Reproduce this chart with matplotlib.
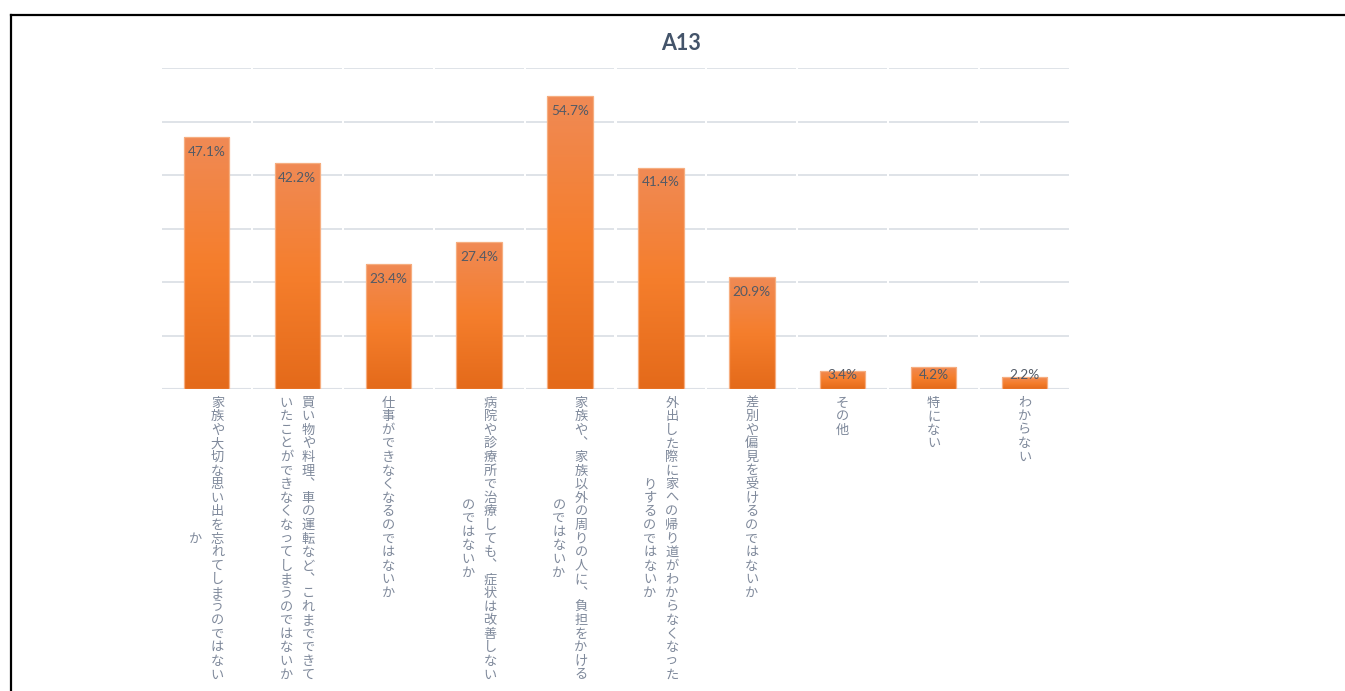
import matplotlib
matplotlib.use("Agg")
import matplotlib.pyplot as plt
import numpy as np
from matplotlib.colors import LinearSegmentedColormap
from matplotlib.lines import Line2D

plt.rcParams['font.family'] = ['Noto Sans CJK JP', 'DejaVu Sans']

title = "A13"
categories = [
    "家族や大切な思い出を忘れてしまうのではないか",
    "買い物や料理、車の運転など、これまでできていたことができなくなってしまうのではないか",
    "仕事ができなくなるのではないか",
    "病院や診療所で治療しても、症状は改善しないのではないか",
    "家族や、家族以外の周りの人に、負担をかけるのではないか",
    "外出した際に家への帰り道がわからなくなったりするのではないか",
    "差別や偏見を受けるのではないか",
    "その他",
    "特にない",
    "わからない",
]
values = [47.1, 42.2, 23.4, 27.4, 54.7, 41.4, 20.9, 3.4, 4.2, 2.2]
value_labels = ["47.1%", "42.2%", "23.4%", "27.4%", "54.7%", "41.4%", "20.9%", "3.4%", "4.2%", "2.2%"]

W, H = 1345, 691
fig = plt.figure(figsize=(W / 100, H / 100), dpi=100)
fig.patch.set_facecolor("white")

ax_left, ax_right = 161, 1070
ax_top, ax_bottom = 68, 389
ax = fig.add_axes([ax_left / W, 1 - ax_bottom / H, (ax_right - ax_left) / W, (ax_bottom - ax_top) / H])
ax.set_xlim(-0.5, len(values) - 0.5)
ax.set_ylim(0, 60)
ax.axis("off")

# segmented gridlines
grid_color = "#DCE0E6"
gap = 0.012
for yv in range(0, 61, 10):
    for i in range(len(values)):
        ax.plot([i - 0.5 + gap, i + 0.5 - gap], [yv, yv], color=grid_color,
                lw=1.3 if yv else 1.5, zorder=1, solid_capstyle="butt")

# gradient bars
cmap = LinearSegmentedColormap.from_list(
    "og", [(0.0, "#E46A1A"), (0.5, "#F57E2C"), (1.0, "#F08A55")])
grad = np.linspace(0, 1, 256).reshape(-1, 1)
bw = 0.5
bars = ax.bar(range(len(values)), values, width=bw, facecolor="none",
              edgecolor="#F6AE80", linewidth=0.9, zorder=3)
for i, (b, v) in enumerate(zip(bars, values)):
    im = ax.imshow(grad, cmap=cmap, origin="lower", aspect="auto",
                   extent=(i - bw / 2, i + bw / 2, 0, v), zorder=2,
                   interpolation="bilinear")
    im.set_clip_path(b)
ax.set_xlim(-0.5, len(values) - 0.5)
ax.set_ylim(0, 60)

# data labels
for i, (v, lab) in enumerate(zip(values, value_labels)):
    yl = max(v - 2.8, 2.7)
    ax.text(i, yl, lab, ha="center", va="center", fontsize=9.8,
            color="#525A66", family=["Lato", "DejaVu Sans"], zorder=5)

# vertical category labels
txt_color = "#7F899B"
col_len = 21
pitch_pt = 13.6 * 0.72
colsep_pt = 22 * 0.72
first_pt = -14 * 0.72
def vert(ch):
    return {"、": "︑", "。": "︒"}.get(ch, ch)
for i, lab in enumerate(categories):
    cols = [lab[k:k + col_len] for k in range(0, len(lab), col_len)]
    nc = len(cols)
    block = len(cols[0])
    for c, col in enumerate(cols):
        dx = ((nc - 1) / 2 - c) * colsep_pt
        start = first_pt - (block - len(col)) / 2 * pitch_pt
        for k, ch in enumerate(col):
            ax.annotate(vert(ch), xy=(i, 0), xytext=(dx, start - k * pitch_pt),
                        textcoords="offset points", ha="center", va="center",
                        fontsize=9.5, color=txt_color, annotation_clip=False)

# title
fig.text(681 / W, 1 - 43 / H, title, ha="center", va="center", fontsize=15.5,
         fontweight="bold", color="#44546A", family=["Lato", "DejaVu Sans"])

# border (top and left)
fig.add_artist(Line2D([11 / W, 1.0], [1 - 15 / H, 1 - 15 / H], color="black", lw=1.6,
                      transform=fig.transFigure))
fig.add_artist(Line2D([11 / W, 11 / W], [0, 1 - 15 / H], color="black", lw=1.6,
                      transform=fig.transFigure))

fig.savefig("out.png", dpi=100, facecolor="white")
